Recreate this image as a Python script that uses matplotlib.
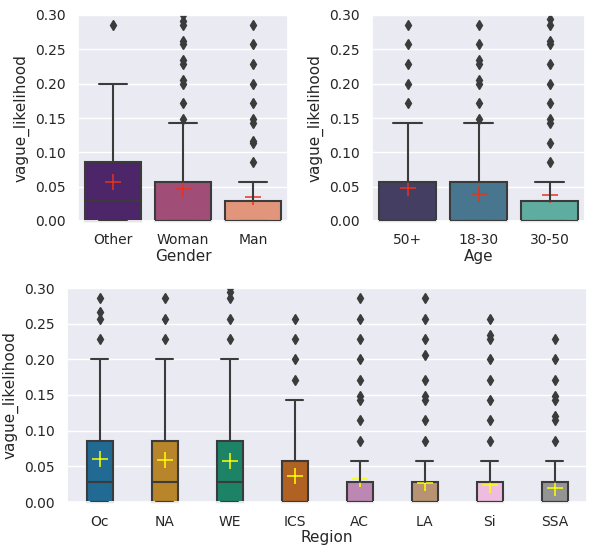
import matplotlib
matplotlib.use("Agg")
import matplotlib.pyplot as plt
import seaborn as sns

# ---- data, values on a 1/35 grid ----
u = 1 / 35

gender_cats = ["Other", "Woman", "Man"]
gender_q1 = [0, 0, 0]
gender_med = [1 * u, 0, 0]
gender_q3 = [3 * u, 2 * u, 1 * u]
gender_whi = [7 * u, 5 * u, 2 * u]
gender_mean = [0.057, 0.046, 0.035]
gender_fliers = [
    [10 * u],
    [5.2 * u, 6 * u, 7 * u, 7.2 * u, 8 * u, 8.2 * u, 9 * u, 9.2 * u, 10 * u, 10.2 * u, 10.5 * u],
    [3 * u, 4 * u, 4.1 * u, 5 * u, 5.2 * u, 6 * u, 7 * u, 8 * u, 9 * u, 10 * u],
]

age_cats = ["50+", "18-30", "30-50"]
age_q1 = [0, 0, 0]
age_med = [0, 0, 0]
age_q3 = [2 * u, 2 * u, 1 * u]
age_whi = [5 * u, 5 * u, 2 * u]
age_mean = [0.048, 0.039, 0.038]
age_fliers = [
    [6 * u, 7 * u, 8 * u, 9 * u, 10 * u],
    [5.2 * u, 6 * u, 7 * u, 7.2 * u, 8 * u, 8.2 * u, 9 * u, 10 * u],
    [3 * u, 4 * u, 5 * u, 5.2 * u, 6 * u, 7 * u, 8 * u, 9 * u, 9.2 * u, 10 * u, 10.3 * u],
]

region_cats = ["Oc", "NA", "WE", "ICS", "AC", "LA", "Si", "SSA"]
region_q1 = [0, 0, 0, 0, 0, 0, 0, 0]
region_med = [1 * u, 1 * u, 1 * u, 0, 0, 0, 0, 0]
region_q3 = [3 * u, 3 * u, 3 * u, 2 * u, 1 * u, 1 * u, 1 * u, 1 * u]
region_whi = [7 * u, 7 * u, 7 * u, 5 * u, 2 * u, 2 * u, 2 * u, 2 * u]
region_mean = [0.060, 0.059, 0.057, 0.037, 0.032, 0.026, 0.024, 0.020]
region_fliers = [
    [8 * u, 9 * u, 9.3 * u, 10 * u],
    [8 * u, 9 * u, 10 * u],
    [8 * u, 9 * u, 10 * u, 10.3 * u, 10.5 * u],
    [6 * u, 7 * u, 8 * u, 9 * u],
    [3 * u, 4 * u, 5 * u, 5.2 * u, 6 * u, 7 * u, 8 * u, 9 * u, 10 * u],
    [3 * u, 4 * u, 5 * u, 5.2 * u, 6 * u, 7.2 * u, 8 * u, 9 * u, 10 * u],
    [3 * u, 4 * u, 5 * u, 6 * u, 7 * u, 8 * u, 8.2 * u, 9 * u],
    [3 * u, 4 * u, 4.2 * u, 5 * u, 5.2 * u, 6 * u, 7 * u, 8 * u],
]

sns.set_theme(style="darkgrid")
plt.rcParams["font.family"] = ["DejaVu Sans"]

EDGE = "#3b3b3b"
SAT = 0.65


def draw(ax, cats, q1, med, q3, whi, mean, fliers, colors, width, capw, mcolor, xlabel):
    stats = []
    for i in range(len(cats)):
        stats.append(dict(med=med[i], q1=q1[i], q3=q3[i], whislo=q1[i],
                          whishi=whi[i], fliers=fliers[i], mean=mean[i]))
    bp = ax.bxp(stats, positions=range(len(cats)), widths=width,
                capwidths=capw, patch_artist=True, showmeans=True,
                manage_ticks=False,
                medianprops=dict(color=EDGE, linewidth=1.5),
                whiskerprops=dict(color=EDGE, linewidth=1.5),
                capprops=dict(color=EDGE, linewidth=1.5),
                flierprops=dict(marker="d", markerfacecolor=EDGE,
                                markeredgecolor=EDGE, markersize=5.5),
                meanprops=dict(marker="+", markeredgecolor=mcolor,
                               markersize=11, markeredgewidth=1.1))
    for patch, c in zip(bp["boxes"], colors):
        patch.set_facecolor(c)
        patch.set_edgecolor(EDGE)
        patch.set_linewidth(1.5)
        patch.set_zorder(2)
        patch.set_clip_on(False)
    for m in bp["means"]:
        m.set_zorder(2.5)
    for ln in bp["whiskers"] + bp["caps"] + bp["medians"]:
        ln.set_zorder(3)
    ax.set_xticks(range(len(cats)))
    ax.set_xticklabels(cats)
    ax.set_xlim(-0.5, len(cats) - 0.5)
    ax.set_ylim(0, 0.3)
    ax.set_yticks([0, 0.05, 0.10, 0.15, 0.20, 0.25, 0.30])
    ax.set_yticklabels(["0.00", "0.05", "0.10", "0.15", "0.20", "0.25", "0.30"])
    ax.xaxis.grid(False)
    ax.set_xlabel(xlabel, fontsize=11, labelpad=1)
    ax.set_ylabel("vague_likelihood", fontsize=11)
    ax.tick_params(labelsize=10, pad=3)


fig = plt.figure(figsize=(5.89, 5.5), dpi=100)
ax1 = fig.add_axes([78 / 589, 1 - 221 / 550, 210 / 589, 206 / 550])
ax2 = fig.add_axes([372 / 589, 1 - 221 / 550, 213 / 589, 206 / 550])
ax3 = fig.add_axes([67 / 589, 1 - 502 / 550, 520 / 589, 214 / 550])

g_col = [sns.desaturate(c, SAT) for c in sns.color_palette("magma", 3)]
a_col = [sns.desaturate(c, SAT) for c in sns.color_palette("mako", 3)]
r_col = [sns.desaturate(c, SAT) for c in sns.color_palette("colorblind", 8)]

draw(ax1, gender_cats, gender_q1, gender_med, gender_q3, gender_whi,
     gender_mean, gender_fliers, g_col, 0.8, 0.4, "#e8331c", "Gender")
draw(ax2, age_cats, age_q1, age_med, age_q3, age_whi,
     age_mean, age_fliers, a_col, 0.8, 0.4, "#e8331c", "Age")
draw(ax3, region_cats, region_q1, region_med, region_q3, region_whi,
     region_mean, region_fliers, r_col, 0.4, 0.25, "#ffff00", "Region")

fig.savefig("out.png", dpi=100)
